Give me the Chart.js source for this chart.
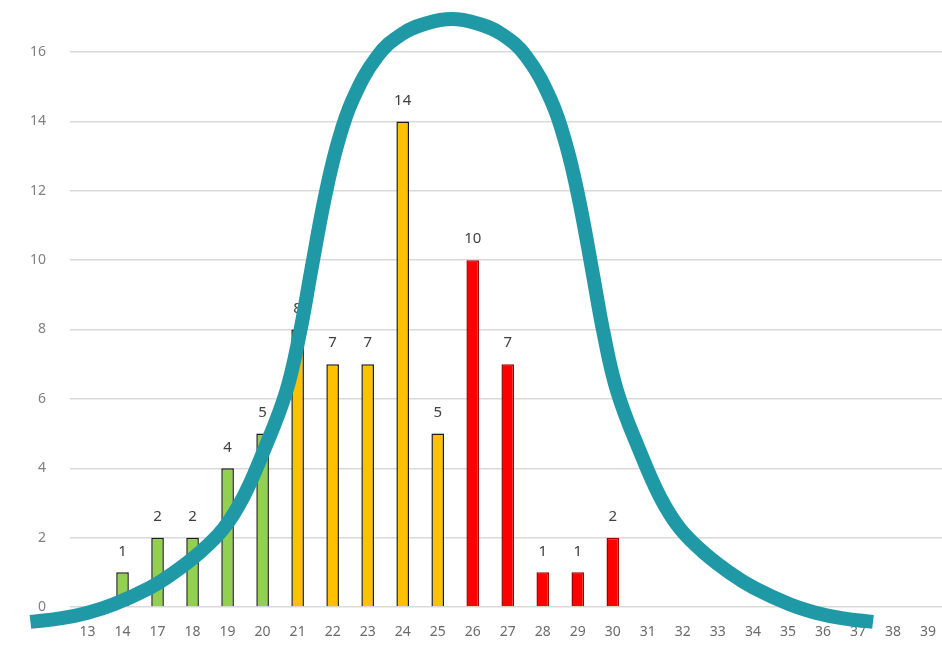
<!DOCTYPE html>
<html lang="en">

<head>
  <meta charset="UTF-8">
  <script src="https://cdn.jsdelivr.net/npm/chart.js"></script>
  <title>Histogram</title>
  <style>
    html, body { margin: 0; padding: 0; background: #fff; overflow: hidden; }
    #box { width: 942px; height: 648px; overflow: hidden; position: relative; }
    canvas { position: absolute; left: 0; top: 0; }
  </style>
</head>

<body>
  <div id="box">
    <canvas id="grafico1" width="953" height="648"></canvas>
  </div>
</body>

</html>
<script>
  // categories on the x axis (13, 14, then 17 .. 39)
  var categories = ['13', '14', '17', '18', '19', '20', '21', '22', '23', '24', '25', '26', '27',
    '28', '29', '30', '31', '32', '33', '34', '35', '36', '37', '38', '39']

  // bar heights (null = no bar)
  var counts = [null, 1, 2, 2, 4, 5, 8, 7, 7, 14, 5, 10, 7, 1, 1, 2,
    null, null, null, null, null, null, null, null, null]

  // colour band of each bar: green / amber / red
  var bands = ['g', 'g', 'g', 'g', 'g', 'g', 'a', 'a', 'a', 'a', 'a', 'r', 'r', 'r', 'r', 'r',
    'r', 'r', 'r', 'r', 'r', 'r', 'r', 'r', 'r']

  // bell curve (x = category position, y = value)
  var curveX = [-1.63, -0.78, -0.02, 0.77, 1.77, 2.42, 3.18, 3.89, 4.45, 5.02, 5.67, 6.07, 6.38,
    6.78, 7.14, 7.57, 8.28, 8.98, 9.69, 10.40, 11.11, 11.82, 12.52, 13.23, 13.66, 14.02, 14.42,
    14.73, 15.13, 15.78, 16.35, 16.91, 17.62, 18.38, 19.04, 20.03, 20.82, 21.58, 22.43]
  var curveY = [-0.43, -0.33, -0.17, 0.09, 0.55, 0.96, 1.55, 2.27, 3.17, 4.47, 6.20, 7.93, 9.66,
    11.82, 13.35, 14.62, 15.88, 16.52, 16.83, 16.95, 16.83, 16.52, 15.88, 14.62, 13.35, 11.82, 9.66,
    7.93, 6.20, 4.47, 3.17, 2.27, 1.55, 0.96, 0.55, 0.09, -0.17, -0.33, -0.43]

  var yTicks = [0, 2, 4, 6, 8, 10, 12, 14, 16]

  var fillColors = { g: '#92D050', a: '#FFC000', r: '#FF0000' }
  var lineColors = { g: '#1a1a1a', a: '#1a1a1a', r: '#A00000' }

  var curvePoints = []
  for (let i = 0; i < curveX.length; i++) {
    curvePoints.push({ x: curveX[i], y: curveY[i] })
  }

  // values above the bars, drawn before the curve so it covers them
  var valueLabels = {
    id: 'valueLabels',
    afterDatasetDraw(chart, args) {
      if (args.index !== 0) return
      const ctx = chart.ctx
      ctx.save()
      ctx.font = '15px "Noto Sans", sans-serif'
      ctx.fillStyle = '#404040'
      ctx.textAlign = 'center'
      ctx.textBaseline = 'middle'
      args.meta.data.forEach((bar, i) => {
        if (counts[i] == null) return
        ctx.fillText(counts[i], bar.x, bar.y - 21)
      })
      ctx.restore()
    }
  }

  var data = {
    labels: categories,
    datasets: [{
      type: 'bar',
      label: 'Frequência',
      data: counts,
      order: 2,
      grouped: false,
      backgroundColor: bands.map(b => fillColors[b]),
      borderColor: bands.map(b => lineColors[b]),
      borderWidth: 1.5,
      categoryPercentage: 1,
      barPercentage: 0.36
    }, {
      type: 'line',
      label: 'Curva',
      data: curvePoints,
      xAxisID: 'xc',
      order: 1,
      clip: false,
      borderColor: '#1F99A6',
      borderWidth: 14,
      borderCapStyle: 'butt',
      tension: 0.4,
      pointRadius: 0,
      fill: false
    }]
  }

  var config = {
    type: 'bar',
    data: data,
    plugins: [valueLabels],
    options: {
      responsive: false,
      animation: false,
      layout: { padding: { top: 52, right: 0, left: 0, bottom: 0 } },
      plugins: {
        legend: { display: false },
        tooltip: { enabled: false }
      },
      scales: {
        x: {
          type: 'category',
          offset: true,
          grid: { display: false, drawTicks: false },
          border: { display: false },
          ticks: {
            autoSkip: false,
            maxRotation: 0,
            padding: 17,
            color: '#6b6b6b',
            font: { family: '"Noto Sans", sans-serif', size: 14 }
          },
          afterFit(scale) { scale.height = 41 }
        },
        xc: {
          type: 'linear',
          display: false,
          offset: false,
          bounds: 'data',
          afterDataLimits(scale) { scale.min = -0.5; scale.max = categories.length - 0.5 }
        },
        y: {
          min: 0,
          max: 16,
          afterBuildTicks(scale) { scale.ticks = yTicks.map(v => ({ value: v })) },
          grid: { color: '#d9d9d9', lineWidth: 1.5, drawTicks: false },
          border: { display: false },
          ticks: {
            padding: 24,
            color: '#7f7f7f',
            font: { family: '"Noto Sans", sans-serif', size: 14 }
          },
          afterFit(scale) { scale.width = 70 }
        }
      }
    }
  }

  const grafico = new Chart(document.getElementById('grafico1'), config)
</script>
